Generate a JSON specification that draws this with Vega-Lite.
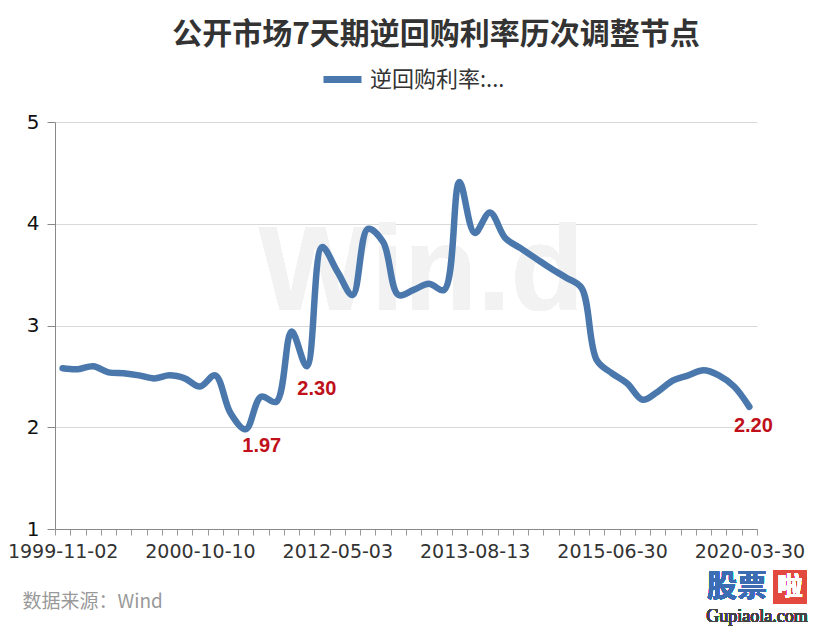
{
  "$schema": "https://vega.github.io/schema/vega-lite/v6.json",
  "width": 702,
  "height": 407,
  "autosize": "none",
  "padding": {"left": 55, "top": 122, "right": 63, "bottom": 101},
  "background": "white",
  "config": {"view": {"stroke": null}},
  "title": {
    "text": "公开市场7天期逆回购利率历次调整节点",
    "font": "Noto Sans CJK SC",
    "fontSize": 30,
    "fontWeight": "bold",
    "color": "#333333",
    "anchor": "middle",
    "dx": 30,
    "offset": 7
  },
  "data": {
    "values": [
      {"n": 1, "rate": 2.58},
      {"n": 2, "rate": 2.57},
      {"n": 3, "rate": 2.60},
      {"n": 4, "rate": 2.54},
      {"n": 5, "rate": 2.53},
      {"n": 6, "rate": 2.51},
      {"n": 7, "rate": 2.48},
      {"n": 8, "rate": 2.51},
      {"n": 9, "rate": 2.48},
      {"n": 10, "rate": 2.40},
      {"n": 11, "rate": 2.51},
      {"n": 12, "rate": 2.14},
      {"n": 13, "rate": 1.98, "label": "1.97"},
      {"n": 14, "rate": 2.30},
      {"n": 15, "rate": 2.25},
      {"n": 16, "rate": 2.94},
      {"n": 17, "rate": 2.60, "label": "2.30"},
      {"n": 18, "rate": 3.77},
      {"n": 19, "rate": 3.53},
      {"n": 20, "rate": 3.30},
      {"n": 21, "rate": 3.95},
      {"n": 22, "rate": 3.82},
      {"n": 23, "rate": 3.30},
      {"n": 24, "rate": 3.35},
      {"n": 25, "rate": 3.41},
      {"n": 26, "rate": 3.35},
      {"n": 27, "rate": 4.41},
      {"n": 28, "rate": 3.91},
      {"n": 29, "rate": 4.11},
      {"n": 30, "rate": 3.86},
      {"n": 31, "rate": 3.76},
      {"n": 32, "rate": 3.66},
      {"n": 33, "rate": 3.56},
      {"n": 34, "rate": 3.47},
      {"n": 35, "rate": 3.37},
      {"n": 36, "rate": 2.66},
      {"n": 37, "rate": 2.53},
      {"n": 38, "rate": 2.43},
      {"n": 39, "rate": 2.27},
      {"n": 40, "rate": 2.35},
      {"n": 41, "rate": 2.46},
      {"n": 42, "rate": 2.51},
      {"n": 43, "rate": 2.56},
      {"n": 44, "rate": 2.51},
      {"n": 45, "rate": 2.40},
      {"n": 46, "rate": 2.20, "label": "2.20"}
    ]
  },
  "layer": [
    {
      "mark": {"type": "text", "text": "Win.d", "font": "Liberation Sans", "fontWeight": "bold", "fontSize": 120, "color": "#f2f2f2", "align": "center", "baseline": "alphabetic"},
      "encoding": {
        "x": {"datum": 25, "type": "ordinal", "bandPosition": 0},
        "y": {"datum": 3.15, "type": "quantitative"}
      }
    },
    {
      "mark": {"type": "line", "interpolate": "catmull-rom", "strokeWidth": 6.5, "strokeCap": "round", "strokeJoin": "round"},
      "encoding": {
        "x": {
          "field": "n",
          "type": "ordinal",
          "bandPosition": 0.5,
          "scale": {"type": "band", "paddingInner": 0, "paddingOuter": 0},
          "axis": {
            "tickBand": "extent",
            "labelAngle": 0,
            "labelAlign": "center",
            "labelBaseline": "top",
            "labelFlush": false,
            "labelBound": false,
            "labelOverlap": false,
            "labelExpr": "datum.value == 1 ? '1999-11-02' : datum.value == 10 ? '2000-10-10' : datum.value == 19 ? '2012-05-03' : datum.value == 28 ? '2013-08-13' : datum.value == 37 ? '2015-06-30' : datum.value == 46 ? '2020-03-30' : ''",
            "labelFont": "DejaVu Sans",
            "labelFontSize": 19,
            "labelColor": "#333333",
            "labelPadding": 7,
            "tickColor": "#999999",
            "tickSize": 6,
            "domainColor": "#888888",
            "grid": false,
            "title": "数据来源：Wind",
            "titleFont": "Noto Sans CJK SC",
            "titleFontSize": 19,
            "titleFontWeight": "normal",
            "titleColor": "#999999",
            "titleAnchor": "start",
            "titleAlign": "left",
            "titleBaseline": "middle",
            "titleX": -33,
            "titleY": 72
          }
        },
        "y": {
          "field": "rate",
          "type": "quantitative",
          "scale": {"domain": [1, 5], "nice": false, "zero": false},
          "axis": {
            "values": [1, 2, 3, 4, 5],
            "format": "d",
            "grid": true,
            "gridColor": "#d9d9d9",
            "domainColor": "#888888",
            "tickColor": "#888888",
            "tickSize": 8,
            "labelPadding": 8,
            "labelFont": "DejaVu Sans",
            "labelFontSize": 20,
            "labelColor": "#111111",
            "title": null
          }
        },
        "color": {
          "datum": "逆回购利率:...",
          "type": "nominal",
          "scale": {"range": ["#4a78ad"]},
          "legend": {
            "orient": "none",
            "legendX": 265,
            "legendY": -65,
            "title": null,
            "padding": 0,
            "symbolType": "stroke",
            "symbolStrokeWidth": 7,
            "symbolSize": 1444,
            "labelFont": "Noto Sans CJK SC",
            "labelFontSize": 22,
            "labelColor": "#333333",
            "labelOffset": 5,
            "labelLimit": 300
          }
        }
      }
    },
    {
      "transform": [{"filter": "datum.label == '1.97'"}],
      "mark": {"type": "text", "font": "Liberation Sans", "fontWeight": "bold", "fontSize": 20, "color": "#c0101a", "align": "center", "baseline": "middle", "dx": 16, "dy": 17},
      "encoding": {
        "x": {"field": "n", "type": "ordinal", "bandPosition": 0.5},
        "y": {"field": "rate", "type": "quantitative"},
        "text": {"field": "label"}
      }
    },
    {
      "transform": [{"filter": "datum.label == '2.30'"}],
      "mark": {"type": "text", "font": "Liberation Sans", "fontWeight": "bold", "fontSize": 20, "color": "#c0101a", "align": "center", "baseline": "middle", "dx": 10, "dy": 23},
      "encoding": {
        "x": {"field": "n", "type": "ordinal", "bandPosition": 0.5},
        "y": {"field": "rate", "type": "quantitative"},
        "text": {"field": "label"}
      }
    },
    {
      "transform": [{"filter": "datum.label == '2.20'"}],
      "mark": {"type": "text", "font": "Liberation Sans", "fontWeight": "bold", "fontSize": 20, "color": "#c0101a", "align": "center", "baseline": "middle", "dx": 4, "dy": 19},
      "encoding": {
        "x": {"field": "n", "type": "ordinal", "bandPosition": 0.5},
        "y": {"field": "rate", "type": "quantitative"},
        "text": {"field": "label"}
      }
    },
    {
      "mark": {"type": "text", "text": "股票", "font": "Noto Sans CJK SC", "fontWeight": "bold", "fontSize": 30, "color": "#3c6db3", "align": "center", "baseline": "middle", "dx": -20},
      "encoding": {
        "x": {"datum": 46, "type": "ordinal", "bandPosition": 1},
        "y": {"datum": 0.43, "type": "quantitative"}
      }
    },
    {
      "mark": {"type": "point", "shape": "square", "size": 1050, "filled": true, "color": "#e24a3f", "opacity": 1, "strokeWidth": 0},
      "encoding": {
        "x": {"datum": 46, "type": "ordinal", "bandPosition": 3.16},
        "y": {"datum": 0.43, "type": "quantitative"}
      }
    },
    {
      "mark": {"type": "text", "text": "啦", "font": "Noto Sans CJK SC", "fontWeight": "bold", "fontSize": 25, "color": "#ffffff", "align": "center", "baseline": "middle"},
      "encoding": {
        "x": {"datum": 46, "type": "ordinal", "bandPosition": 3.16},
        "y": {"datum": 0.43, "type": "quantitative"}
      }
    },
    {
      "mark": {"type": "text", "text": "Gupiaola.com", "font": "Liberation Serif", "fontSize": 18, "color": "#444444", "align": "center", "baseline": "middle", "dx": 0},
      "encoding": {
        "x": {"datum": 46, "type": "ordinal", "bandPosition": 1},
        "y": {"datum": 0.14, "type": "quantitative"}
      }
    }
  ]
}
